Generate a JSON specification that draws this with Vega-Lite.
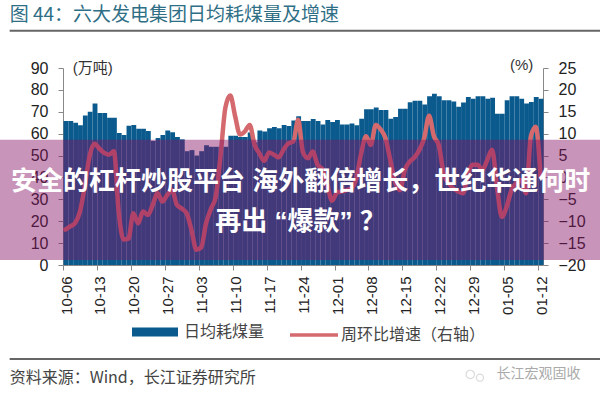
{
  "$schema": "https://vega.github.io/schema/vega-lite/v6.json",
  "width": 480,
  "height": 197,
  "autosize": {"type": "none"},
  "padding": {"left": 63, "top": 68, "right": 57, "bottom": 135},
  "background": "white",
  "data": {"values": [
    {"date":"2016/10/06","coal":65.8,"wow":-11.9},{"date":"2016/10/07","coal":65.8,"wow":-11.2},{"date":"2016/10/08","coal":65,"wow":-10.4},{"date":"2016/10/09","coal":63.8,"wow":-7.8},{"date":"2016/10/10","coal":68.3,"wow":-2},{"date":"2016/10/11","coal":70,"wow":5},{"date":"2016/10/12","coal":73.8,"wow":7.7},{"date":"2016/10/13","coal":69.4,"wow":6.6},{"date":"2016/10/14","coal":69.4,"wow":5.6},{"date":"2016/10/15","coal":67.3,"wow":5.2},
    {"date":"2016/10/16","coal":67.3,"wow":6},{"date":"2016/10/17","coal":60.3,"wow":-8},{"date":"2016/10/18","coal":59.4,"wow":-14.2},{"date":"2016/10/19","coal":63.6,"wow":-14},{"date":"2016/10/20","coal":64,"wow":-8.2},{"date":"2016/10/21","coal":62.3,"wow":-10.5},{"date":"2016/10/22","coal":62.3,"wow":-7.8},{"date":"2016/10/23","coal":61.2,"wow":-8.6},{"date":"2016/10/24","coal":56.7,"wow":-6.3},{"date":"2016/10/25","coal":58,"wow":-3.6},
    {"date":"2016/10/26","coal":59.4,"wow":-5.5},{"date":"2016/10/27","coal":61.5,"wow":-4},{"date":"2016/10/28","coal":60.7,"wow":-2.9},{"date":"2016/10/29","coal":58.5,"wow":-6.3},{"date":"2016/10/30","coal":57.4,"wow":-7.1},{"date":"2016/10/31","coal":52,"wow":-8.2},{"date":"2016/11/01","coal":52.5,"wow":-12},{"date":"2016/11/02","coal":50,"wow":-16.5},{"date":"2016/11/03","coal":52,"wow":-16},{"date":"2016/11/04","coal":54.7,"wow":-10.5},
    {"date":"2016/11/05","coal":54,"wow":-7.2},{"date":"2016/11/06","coal":54,"wow":-4.4},{"date":"2016/11/07","coal":54,"wow":5},{"date":"2016/11/08","coal":54,"wow":16},{"date":"2016/11/09","coal":59,"wow":18.7},{"date":"2016/11/10","coal":59,"wow":14},{"date":"2016/11/11","coal":58.5,"wow":9.8},{"date":"2016/11/12","coal":58.5,"wow":10.5},{"date":"2016/11/13","coal":60.5,"wow":12},{"date":"2016/11/14","coal":56,"wow":7.5},
    {"date":"2016/11/15","coal":61.5,"wow":5.5},{"date":"2016/11/16","coal":61,"wow":3.8},{"date":"2016/11/17","coal":62.5,"wow":5.7},{"date":"2016/11/18","coal":63,"wow":5.2},{"date":"2016/11/19","coal":62.5,"wow":4.6},{"date":"2016/11/20","coal":64,"wow":6.4},{"date":"2016/11/21","coal":63.5,"wow":7.8},{"date":"2016/11/22","coal":66,"wow":8.2},{"date":"2016/11/23","coal":68,"wow":13.2},{"date":"2016/11/24","coal":65.8,"wow":5.7},
    {"date":"2016/11/25","coal":65.8,"wow":4.4},{"date":"2016/11/26","coal":66.7,"wow":5.9},{"date":"2016/11/27","coal":65.8,"wow":2.9},{"date":"2016/11/28","coal":64.2,"wow":1.9},{"date":"2016/11/29","coal":66.2,"wow":-1.7},{"date":"2016/11/30","coal":65.3,"wow":-5.3},{"date":"2016/12/01","coal":66.2,"wow":-3.5},{"date":"2016/12/02","coal":64.2,"wow":-3.2},{"date":"2016/12/03","coal":64.2,"wow":-2.9},{"date":"2016/12/04","coal":64.7,"wow":-2.5},
    {"date":"2016/12/05","coal":63.8,"wow":-0.2},{"date":"2016/12/06","coal":66.8,"wow":5.5},{"date":"2016/12/07","coal":71.2,"wow":9.4},{"date":"2016/12/08","coal":71.2,"wow":7.4},{"date":"2016/12/09","coal":72,"wow":12},{"date":"2016/12/10","coal":70.8,"wow":11},{"date":"2016/12/11","coal":70.8,"wow":9},{"date":"2016/12/12","coal":66.8,"wow":4},{"date":"2016/12/13","coal":67.6,"wow":-1},{"date":"2016/12/14","coal":71.4,"wow":-2.9},
    {"date":"2016/12/15","coal":71.4,"wow":1.7},{"date":"2016/12/16","coal":74.4,"wow":3.6},{"date":"2016/12/17","coal":75,"wow":4.6},{"date":"2016/12/18","coal":75,"wow":6.3},{"date":"2016/12/19","coal":73.3,"wow":9},{"date":"2016/12/20","coal":77.1,"wow":14.1},{"date":"2016/12/21","coal":78.2,"wow":9.4},{"date":"2016/12/22","coal":77.1,"wow":7.4},{"date":"2016/12/23","coal":75.3,"wow":1},{"date":"2016/12/24","coal":75.3,"wow":-1.3},
    {"date":"2016/12/25","coal":74.7,"wow":-2.5},{"date":"2016/12/26","coal":72.3,"wow":-3.2},{"date":"2016/12/27","coal":74.2,"wow":-3.6},{"date":"2016/12/28","coal":76.8,"wow":0.6},{"date":"2016/12/29","coal":76,"wow":2.9},{"date":"2016/12/30","coal":77.1,"wow":2.9},{"date":"2016/12/31","coal":77.1,"wow":1.7},{"date":"2017/01/01","coal":76,"wow":4},{"date":"2017/01/02","coal":76.4,"wow":6.3},{"date":"2017/01/03","coal":69.1,"wow":-2.1},
    {"date":"2017/01/04","coal":69.1,"wow":-9},{"date":"2017/01/05","coal":75.3,"wow":-6.7},{"date":"2017/01/06","coal":77.1,"wow":-2.9},{"date":"2017/01/07","coal":77.1,"wow":-1.3},{"date":"2017/01/08","coal":76,"wow":-0.6},{"date":"2017/01/09","coal":73.8,"wow":-3.6},{"date":"2017/01/10","coal":74.5,"wow":9.4},{"date":"2017/01/11","coal":76.8,"wow":11.6},{"date":"2017/01/12","coal":76,"wow":0.2}
  ]},
  "layer": [
    {
      "mark": {"type": "bar", "binSpacing": 0, "strokeWidth": 0},
      "encoding": {
        "x": {
          "field": "date", "type": "temporal", "timeUnit": "yearmonthdate", "title": null,
          "scale": {"domain": [{"year": 2016, "month": 10, "date": 6}, {"year": 2017, "month": 1, "date": 13}]},
          "axis": {
            "values": ["2016/10/06","2016/10/13","2016/10/20","2016/10/27","2016/11/03","2016/11/10","2016/11/17","2016/11/24","2016/12/01","2016/12/08","2016/12/15","2016/12/22","2016/12/29","2017/01/05","2017/01/12"],
            "tickCount": 15,
            "format": "%m-%d", "labelAngle": 270, "labelAlign": "right", "labelBaseline": "middle", "labelOffset": 3,
            "labelFont": "Liberation Sans", "labelFontSize": 15, "labelColor": "#222", "labelPadding": 6, "labelOverlap": false,
            "tickSize": 5, "tickColor": "#888", "domainColor": "#888", "grid": false
          }
        },
        "y": {
          "field": "coal", "type": "quantitative", "title": null,
          "scale": {"domain": [0, 90], "nice": false},
          "axis": {
            "values": [0,10,20,30,40,50,60,70,80,90], "grid": false,
            "labelFont": "Liberation Sans", "labelFontSize": 16, "labelColor": "#222", "labelPadding": 10,
            "tickSize": 5, "tickColor": "#888", "domainColor": "#888"
          }
        },
        "fill": {
          "datum": "日均耗煤量",
          "scale": {"range": ["#0b5a8d"]},
          "legend": {
            "orient": "none", "legendX": 69, "legendY": 241, "title": null, "padding": 0,
            "symbolType": "M-1,-0.2H1V0.2H-1Z", "symbolSize": 2116, "symbolStrokeWidth": 0, "symbolOffset": 0,
            "labelFont": "Noto Sans CJK SC", "labelFontSize": 16, "labelColor": "#444", "labelOffset": 6
          }
        }
      }
    },
    {
      "mark": {"type": "line", "strokeWidth": 4.5, "interpolate": "monotone", "strokeCap": "round"},
      "encoding": {
        "x": {"field": "date", "type": "temporal", "timeUnit": "yearmonthdate", "bandPosition": 0.5, "title": null},
        "y": {
          "field": "wow", "type": "quantitative", "title": null,
          "scale": {"domain": [-20, 25], "nice": false, "zero": false},
          "axis": {
            "orient": "right", "values": [-20,-15,-10,-5,0,5,10,15,20,25], "grid": false,
            "labelFont": "Liberation Sans", "labelFontSize": 16, "labelColor": "#222", "labelPadding": 10,
            "tickSize": 5, "tickColor": "#888", "domainColor": "#888"
          }
        },
        "stroke": {
          "datum": "周环比增速（右轴）",
          "scale": {"range": ["#d4696e"]},
          "legend": {
            "orient": "none", "legendX": 225, "legendY": 241, "title": null, "padding": 0,
            "symbolType": "M-1,0H1", "symbolSize": 2304, "symbolStrokeWidth": 3.5, "symbolStrokeColor": "#d88c90", "symbolOffset": 0,
            "labelFont": "Noto Sans CJK SC", "labelFontSize": 16, "labelColor": "#444", "labelOffset": 1
          }
        }
      }
    },
    {
      "data": {"values": [{}]},
      "layer": [
        {
          "mark": {"type": "rect", "fill": "#851264", "opacity": 0.45},
          "encoding": {
            "x": {"datum": {"year": 2016, "month": 9, "date": 23}, "type": "temporal"},
            "x2": {"datum": {"year": 2017, "month": 1, "date": 25}},
            "y": {"datum": 57.2, "type": "quantitative", "scale": {"domain": [0, 90], "nice": false}, "axis": null},
            "y2": {"datum": 2.3}
          }
        },
        {
          "mark": {"type": "text", "text": "安全的杠杆炒股平台 海外翻倍增长，世纪华通何时", "font": "Liberation Sans, Noto Sans CJK SC", "fontWeight": "bold", "fontSize": 26, "fill": "white", "align": "center", "baseline": "middle"},
          "encoding": {
            "x": {"datum": {"year": 2016, "month": 11, "date": 24}, "type": "temporal"},
            "y": {"datum": 38, "type": "quantitative", "axis": null}
          }
        },
        {
          "mark": {"type": "text", "text": "再出 “爆款” ？", "font": "Liberation Sans, Noto Sans CJK SC", "fontWeight": "bold", "fontSize": 26, "fill": "white", "align": "center", "baseline": "middle"},
          "encoding": {
            "x": {"datum": {"year": 2016, "month": 11, "date": 24}, "type": "temporal"},
            "y": {"datum": 19.7, "type": "quantitative", "axis": null}
          }
        },
        {
          "mark": {"type": "text", "text": "图 44：六大发电集团日均耗煤量及增速", "font": "Noto Sans CJK SC", "fontSize": 19, "fill": "#2f6f86", "align": "left", "baseline": "middle"},
          "encoding": {
            "x": {"datum": {"year": 2016, "month": 9, "date": 25}, "type": "temporal"},
            "y": {"datum": 114.4, "type": "quantitative", "axis": null}
          }
        },
        {
          "mark": {"type": "rule", "stroke": "#666", "strokeWidth": 2},
          "encoding": {
            "x": {"datum": {"year": 2016, "month": 9, "date": 25}, "type": "temporal"},
            "x2": {"datum": {"year": 2017, "month": 1, "date": 25}},
            "y": {"datum": 107, "type": "quantitative", "axis": null}
          }
        },
        {
          "mark": {"type": "rule", "stroke": "#666", "strokeWidth": 2},
          "encoding": {
            "x": {"datum": {"year": 2016, "month": 9, "date": 25}, "type": "temporal"},
            "x2": {"datum": {"year": 2017, "month": 1, "date": 25}},
            "y": {"datum": -43, "type": "quantitative", "axis": null}
          }
        },
        {
          "mark": {"type": "text", "text": "(万吨)", "font": "Liberation Sans, Noto Sans CJK SC", "fontSize": 15, "fill": "#333", "align": "left", "baseline": "middle"},
          "encoding": {
            "x": {"datum": {"year": 2016, "month": 10, "date": 8}, "type": "temporal"},
            "y": {"datum": 90.2, "type": "quantitative", "axis": null}
          }
        },
        {
          "mark": {"type": "text", "text": "(%)", "font": "Liberation Sans", "fontSize": 15, "fill": "#333", "align": "right", "baseline": "middle"},
          "encoding": {
            "x": {"datum": {"year": 2017, "month": 1, "date": 11}, "type": "temporal"},
            "y": {"datum": 91.5, "type": "quantitative", "axis": null}
          }
        },
        {
          "mark": {"type": "text", "text": "资料来源：Wind，长江证券研究所", "font": "Noto Sans CJK SC", "fontSize": 16, "fill": "#444", "align": "left", "baseline": "middle"},
          "encoding": {
            "x": {"datum": {"year": 2016, "month": 9, "date": 25}, "type": "temporal"},
            "y": {"datum": -51.7, "type": "quantitative", "axis": null}
          }
        },
        {
          "mark": {"type": "point", "shape": "circle", "size": 70, "filled": false, "stroke": "#ccc", "strokeWidth": 1.2},
          "encoding": {
            "x": {"datum": {"year": 2016, "month": 12, "date": 29}, "type": "temporal"},
            "y": {"datum": -50, "type": "quantitative", "axis": null}
          }
        },
        {
          "mark": {"type": "point", "shape": "circle", "size": 50, "filled": false, "stroke": "#ccc", "strokeWidth": 1.2},
          "encoding": {
            "x": {"datum": {"year": 2016, "month": 12, "date": 31}, "type": "temporal"},
            "y": {"datum": -51.5, "type": "quantitative", "axis": null}
          }
        },
        {
          "mark": {"type": "text", "text": "长江宏观固收", "font": "Noto Sans CJK SC", "fontSize": 14, "fill": "#aaa", "align": "left", "baseline": "middle", "dx": 2},
          "encoding": {
            "x": {"datum": {"year": 2017, "month": 1, "date": 3}, "type": "temporal"},
            "y": {"datum": -50, "type": "quantitative", "axis": null}
          }
        }
      ]
    }
  ],
  "resolve": {"scale": {"y": "independent"}},
  "config": {"view": {"stroke": null}, "axis": {"grid": false}, "axisX": {"labelOverlap": false}}
}
